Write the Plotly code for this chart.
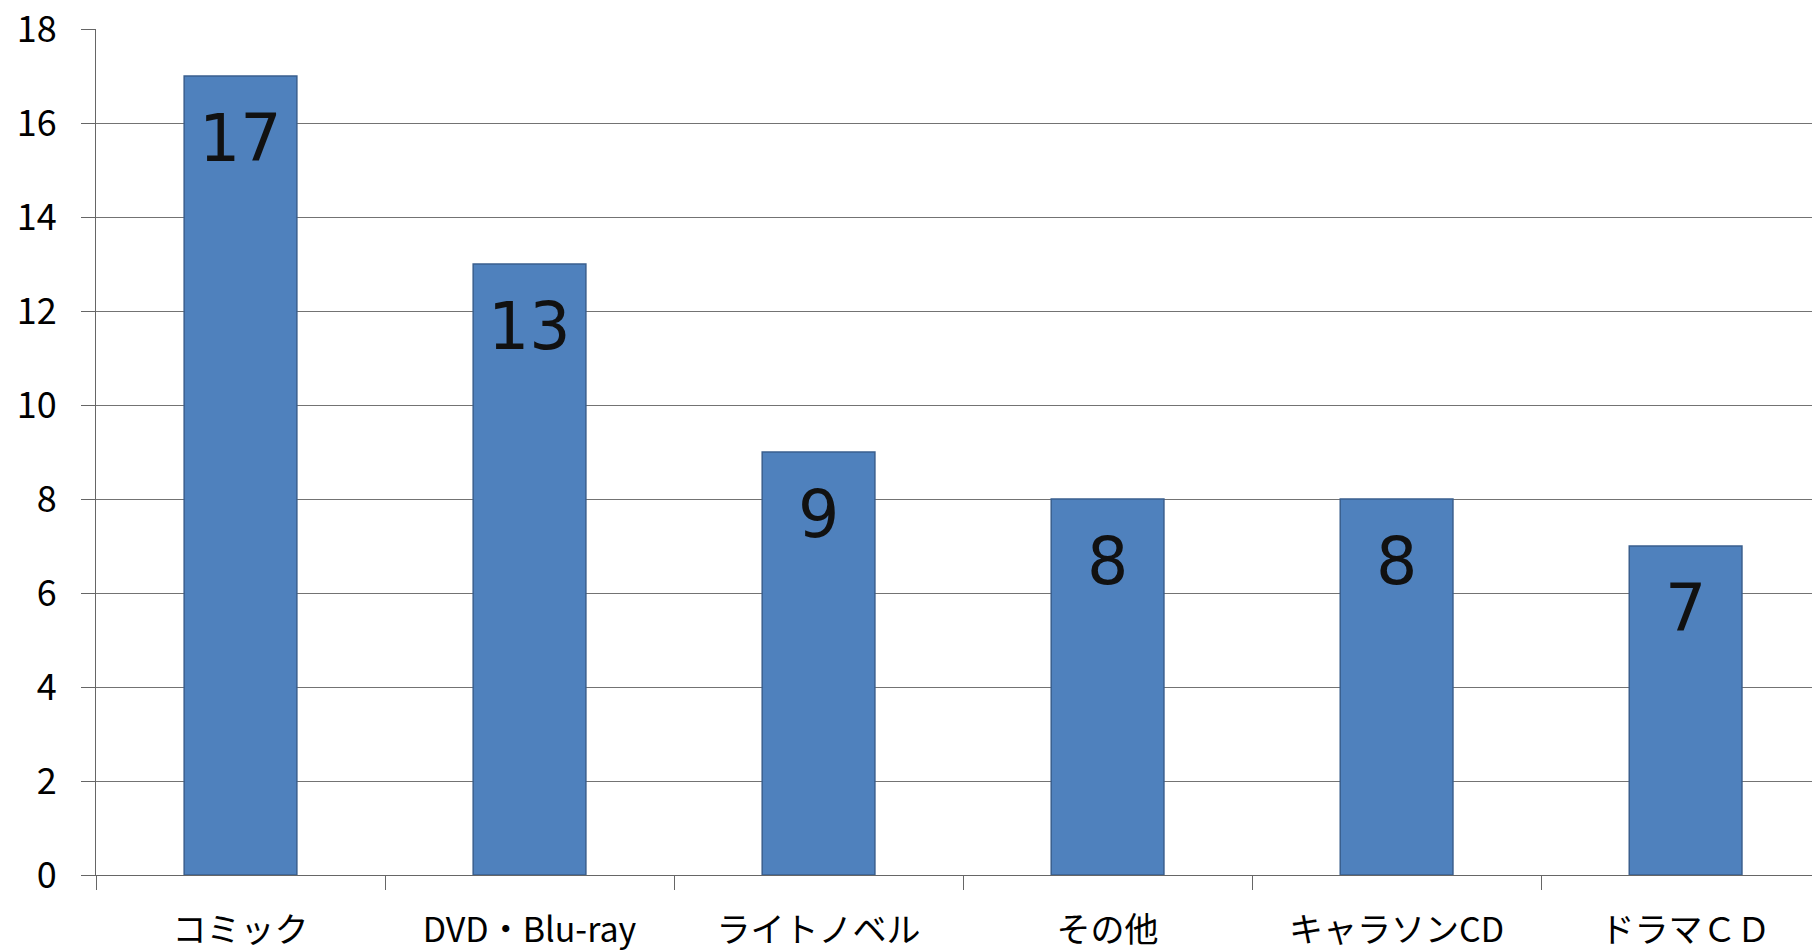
import plotly.graph_objects as go

categories = ["コミック", "DVD・Blu-ray", "ライトノベル", "その他", "キャラソンCD", "ドラマＣＤ"]
values = [17, 13, 9, 8, 8, 7]
y_ticks = [0, 2, 4, 6, 8, 10, 12, 14, 16, 18]

fig = go.Figure()
fig.add_trace(go.Bar(
    x=categories, y=values,
    marker=dict(color="#4F81BD", line=dict(color="#3A5F8E", width=1.5)),
    width=0.39,
    hoverinfo="x+y",
))

for c, v in zip(categories, values):
    fig.add_annotation(
        x=c, y=v, text=str(v), showarrow=False, yanchor="top", xanchor="center",
        yshift=-23, font=dict(family="DejaVu Sans", size=65, color="#111111"),
    )

fig.update_layout(
    width=1812, height=944,
    margin=dict(l=88, r=0, t=21, b=77, autoexpand=False),
    paper_bgcolor="white", plot_bgcolor="white",
    showlegend=False,
    font=dict(family="Noto Sans CJK JP", color="#000000"),
)
fig.update_xaxes(
    type="category",
    range=[-0.5, 5.465],
    tickson="boundaries",
    ticks="outside", ticklen=14, tickcolor="#666666", tickwidth=1,
    showline=True, linecolor="#666666", linewidth=1.2,
    showgrid=False,
    tickfont=dict(family="Noto Sans CJK JP", size=34, color="#000000"),
    ticklabelstandoff=25,
    ticklabeloverflow="allow",
)
fig.update_yaxes(
    range=[0, 18], tickvals=y_ticks,
    ticks="outside", ticklen=14, tickcolor="#666666", tickwidth=1,
    showline=True, linecolor="#666666", linewidth=1.2,
    showgrid=True, gridcolor="#737373", gridwidth=1.2,
    zeroline=False,
    tickfont=dict(family="Noto Sans CJK JP", size=36, color="#000000"),
    ticklabelstandoff=17,
    ticklabeloverflow="allow",
)

fig.write_html("out.html")
